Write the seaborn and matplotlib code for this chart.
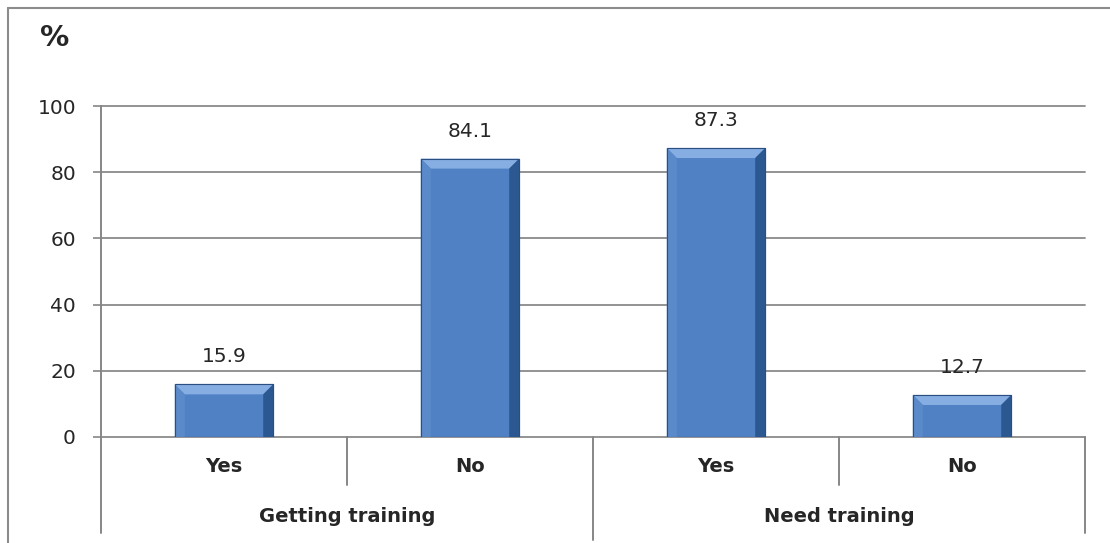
import matplotlib
matplotlib.use("Agg")
import matplotlib.pyplot as plt
from matplotlib.patches import Polygon
from matplotlib.lines import Line2D
import matplotlib.transforms as mtransforms
import seaborn as sns
import pandas as pd

# Survey results (%)
groups = ["Getting training", "Getting training", "Need training", "Need training"]
answers = ["Yes", "No", "Yes", "No"]
percent = [15.9, 84.1, 87.3, 12.7]
yticks = [0, 20, 40, 60, 80, 100]

df = pd.DataFrame({"pos": [0, 1, 2, 3], "answer": answers, "group": groups, "pct": percent})

sns.set_theme(style="white")
plt.rcParams["font.family"] = ["DejaVu Sans"]

W, H = 1110, 543
fig = plt.figure(figsize=(W / 100, H / 100), dpi=100)
ax = fig.add_axes([101 / W, 1 - 437 / H, (1085 - 101) / W, (437 - 106) / H])

bar_color = "#4F81C4"
sns.barplot(data=df, x="pos", y="pct", order=[0, 1, 2, 3], color=bar_color,
            saturation=1, width=0.4, ax=ax, edgecolor="#2E5486", linewidth=0.8, zorder=3)

text_color = "#262626"
ax.set_xlim(-0.5, 3.5)
ax.set_ylim(0, 100)
ax.set_yticks(yticks)
ax.set_yticklabels([str(t) for t in yticks], fontsize=14.5, color=text_color)
ax.set_xticks([])
ax.set_xlabel("")
ax.set_ylabel("")
ax.tick_params(axis="y", length=6, width=1.2, color="#868686", pad=12, left=True)
ax.yaxis.grid(True, color="#8A8A8A", linewidth=1.3, zorder=0)
for gl in ax.get_ygridlines():
    gl.set_clip_on(False)
ax.set_axisbelow(True)
for side in ["top", "right", "bottom"]:
    ax.spines[side].set_visible(False)
ax.spines["left"].set_color("#868686")
ax.spines["left"].set_linewidth(1.4)

# Bevelled look on each bar, built from the bar geometry
bx = 10 / 246          # bevel width in category units
by = 10 / 331 * 100    # bevel height in data units
for p, v in zip(ax.patches, percent):
    x0, w = p.get_x(), p.get_width()
    x1, y1 = x0 + w, p.get_height()
    bev_y = min(by, y1 / 3)
    faces = [
        ([(x0, y1), (x1, y1), (x1 - bx, y1 - bev_y), (x0 + bx, y1 - bev_y)], "#86AEE2"),
        ([(x0, 0), (x0, y1), (x0 + bx, y1 - bev_y), (x0 + bx, 0)], "#5B8ACA"),
        ([(x1, 0), (x1, y1), (x1 - bx, y1 - bev_y), (x1 - bx, 0)], "#2C5891"),
    ]
    for pts, c in faces:
        ax.add_patch(Polygon(pts, closed=True, facecolor=c, edgecolor="none", zorder=4))
    ax.add_patch(Polygon([(x0, 0), (x0, y1), (x1, y1), (x1, 0)], closed=True,
                         facecolor="none", edgecolor="#2A4F80", linewidth=0.8, zorder=5))
    ax.annotate(f"{v}", (x0 + w / 2, y1), xytext=(0, 13), textcoords="offset points",
                ha="center", va="bottom", fontsize=14.5, color=text_color, zorder=6)

# Two-level category axis below the plot
trans = mtransforms.blended_transform_factory(ax.transData, ax.transAxes)
sep_color = "#868686"
for xpos, ybot in [(-0.5, -0.29), (0.5, -0.145), (1.5, -0.31), (2.5, -0.145), (3.5, -0.29)]:
    ax.add_line(Line2D([xpos, xpos], [0, ybot], transform=trans, color=sep_color,
                       linewidth=1.4, clip_on=False))
for xpos, lab in zip(df["pos"], answers):
    ax.text(xpos, -0.09, lab, transform=trans, ha="center", va="center",
            fontsize=14, fontweight="bold", color=text_color)
for xpos, lab in [(0.5, "Getting training"), (2.5, "Need training")]:
    ax.text(xpos, -0.24, lab, transform=trans, ha="center", va="center",
            fontsize=14, fontweight="bold", color=text_color)

# Unit label and chart frame
fig.text(55 / W, 1 - 38 / H, "%", ha="center", va="center", fontsize=21,
         fontweight="bold", color=text_color)
fig.add_artist(Line2D([8 / W, 8 / W], [0, 1 - 8 / H], transform=fig.transFigure,
                      color="#8C8C8C", linewidth=1.5))
fig.add_artist(Line2D([8 / W, 1], [1 - 8 / H, 1 - 8 / H], transform=fig.transFigure,
                      color="#8C8C8C", linewidth=1.5))

fig.savefig("out.png", dpi=100, facecolor="white")
